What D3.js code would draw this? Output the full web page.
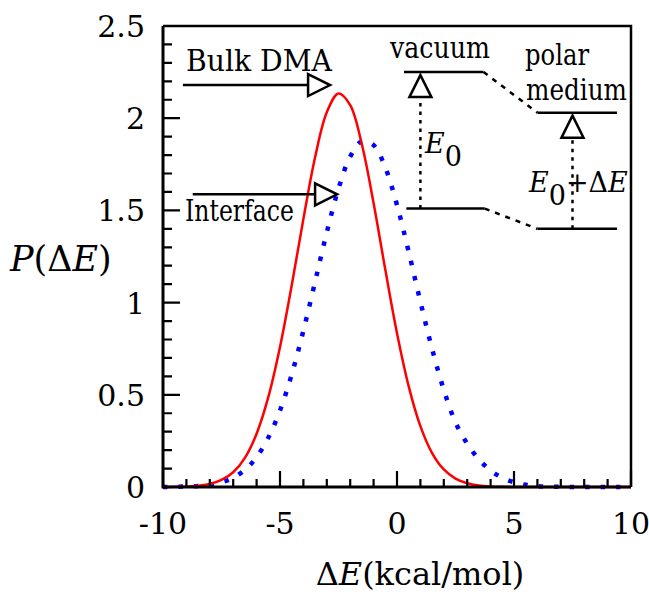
<!DOCTYPE html>
<html>
<head>
<meta charset="utf-8">
<script src="https://cdn.jsdelivr.net/npm/d3@7"></script>
<style>
  body { margin: 0; background: #fff; }
</style>
</head>
<body>
<svg id="chart"></svg>
<script>
// Chart size and plot box
const width = 649, height = 595;
const plotL = 163, plotR = 631, plotT = 26, plotB = 487;
const ff = "DejaVu Serif";

// Energy gap axis (kcal/mol)
const dE = [-10, -9.5, -9, -8.5, -8, -7.5, -7, -6.5, -6, -5.5, -5, -4.5, -4, -3.5, -3, -2.5, -2, -1.5, -1, -0.5,
            0, 0.5, 1, 1.5, 2, 2.5, 3, 3.5, 4, 4.5, 5, 5.5, 6, 6.5, 7, 7.5, 8, 8.5, 9, 9.5, 10];

// P(dE) for bulk DMA (red solid)
const bulk = [0, 0.001, 0.002, 0.007, 0.016, 0.038, 0.080, 0.158, 0.289, 0.487, 0.759, 1.093, 1.454, 1.788, 2.032, 2.134,
              2.071, 1.857, 1.539, 1.179, 0.834, 0.546, 0.330, 0.184, 0.095, 0.045, 0.020, 0.008, 0.003, 0.001,
              0, 0, 0, 0, 0, 0, 0, 0, 0, 0, 0];

// P(dE) at the interface (blue dotted)
const iface = [0, 0.001, 0.003, 0.006, 0.013, 0.026, 0.050, 0.093, 0.162, 0.267, 0.415, 0.610, 0.848, 1.113, 1.381, 1.618,
               1.792, 1.875, 1.854, 1.732, 1.529, 1.275, 1.005, 0.749, 0.527, 0.350, 0.235, 0.150, 0.090, 0.050,
               0.026, 0.012, 0.005, 0.002, 0.001, 0, 0, 0, 0, 0, 0];

// Tick values
const xMajor = [-10, -5, 0, 5, 10];
const xMinor = [-9, -8, -7, -6, -4, -3, -2, -1, 1, 2, 3, 4, 6, 7, 8, 9];
const yMajor = [0, 0.5, 1, 1.5, 2, 2.5];
const yMinor = [0.1, 0.2, 0.3, 0.4, 0.6, 0.7, 0.8, 0.9, 1.1, 1.2, 1.3, 1.4, 1.6, 1.7, 1.8, 1.9, 2.1, 2.2, 2.3, 2.4];

// Energy level sketch (data units): [x1, x2, y]
const levels = [[0.3, 3.7, 2.25], [6.0, 9.4, 2.03], [0.4, 3.75, 1.51], [6.0, 9.4, 1.40]];
// dashed links between levels: [from level, to level]
const links = [[0, 1], [2, 3]];
// vertical arrows: [x, yLow, yHigh]
const upArrows = [[1.0, 1.51, 2.25], [7.5, 1.40, 2.03]];
// pointer arrows to the curves: [label, x1, xTip, y]
const pointers = [["Bulk DMA", -9.15, -2.86, 2.18], ["Interface", -8.73, -2.56, 1.587]];

const x = d3.scaleLinear().domain([-10, 10]).range([plotL, plotR]);
const y = d3.scaleLinear().domain([0, 2.5]).range([plotB, plotT]);

const svg = d3.select("#chart")
    .attr("width", width)
    .attr("height", height)
    .attr("font-family", ff);

// Tick labels
xMajor.forEach(d => {
    svg.append("text")
        .attr("x", x(d)).attr("y", 534)
        .attr("text-anchor", "middle")
        .attr("font-size", 30)
        .text(String(d));
});
yMajor.forEach(d => {
    svg.append("text")
        .attr("x", 145).attr("y", y(d) + 11)
        .attr("text-anchor", "end")
        .attr("font-size", 30)
        .text(String(d));
});

// Curves
const line = d3.line()
    .x((d, i) => x(dE[i]))
    .y(d => y(d))
    .curve(d3.curveCatmullRom);

svg.append("path")
    .datum(iface)
    .attr("d", line)
    .attr("fill", "none")
    .attr("stroke", "#0000ff")
    .attr("stroke-width", 4.5)
    .attr("stroke-dasharray", "4.5,11");

svg.append("path")
    .datum(bulk)
    .attr("d", line)
    .attr("fill", "none")
    .attr("stroke", "#ff0000")
    .attr("stroke-width", 2.5);

// Pointer arrows and their labels
pointers.forEach(([label, x1, xt, yv]) => {
    const tip = x(xt), yy = y(yv);
    svg.append("line")
        .attr("x1", x(x1)).attr("x2", tip - 22)
        .attr("y1", yy).attr("y2", yy)
        .attr("stroke", "#000").attr("stroke-width", 2.5);
    svg.append("path")
        .attr("d", `M${tip - 22},${yy - 11}L${tip},${yy}L${tip - 22},${yy + 11}Z`)
        .attr("fill", "#fff").attr("stroke", "#000").attr("stroke-width", 2.5);
});

// Text squeezed to the widths seen in the original
function label(txt, xp, yp, size, len) {
    return svg.append("text").attr("x", xp).attr("y", yp)
        .attr("font-size", size)
        .attr("textLength", len).attr("lengthAdjust", "spacingAndGlyphs")
        .text(txt);
}
label(pointers[0][0], 186, 71, 30, 146);
label(pointers[1][0], 185, 221, 29, 109);

// Energy levels
levels.forEach(([a, b, yv]) => {
    svg.append("line")
        .attr("x1", x(a)).attr("x2", x(b))
        .attr("y1", y(yv)).attr("y2", y(yv))
        .attr("stroke", "#000").attr("stroke-width", 2.5);
});
links.forEach(([i, j]) => {
    svg.append("line")
        .attr("x1", x(levels[i][1])).attr("y1", y(levels[i][2]))
        .attr("x2", x(levels[j][0])).attr("y2", y(levels[j][2]))
        .attr("stroke", "#000").attr("stroke-width", 2.5)
        .attr("stroke-dasharray", "5,6");
});
upArrows.forEach(([xv, lo, hi]) => {
    const cx = x(xv), apex = y(hi) + 3;
    svg.append("line")
        .attr("x1", cx).attr("x2", cx)
        .attr("y1", y(lo)).attr("y2", apex + 22)
        .attr("stroke", "#000").attr("stroke-width", 2.5)
        .attr("stroke-dasharray", "3.5,5");
    svg.append("path")
        .attr("d", `M${cx - 11},${apex + 22}L${cx},${apex}L${cx + 11},${apex + 22}Z`)
        .attr("fill", "#fff").attr("stroke", "#000").attr("stroke-width", 2.5);
});

label("vacuum", 390, 58, 29, 100);
label("polar", 525, 65, 29, 64);
label("medium", 526, 100, 29, 101);

const e0 = svg.append("text").attr("x", 425).attr("y", 153).attr("font-size", 27);
e0.append("tspan").attr("font-style", "italic").text("E");
e0.append("tspan").attr("dy", 13).text("0");

const e1 = svg.append("text").attr("x", 529).attr("y", 192).attr("font-size", 27);
e1.append("tspan").attr("font-style", "italic").text("E");
e1.append("tspan").attr("dy", 13).text("0");
e1.append("tspan").attr("dy", -13).text("+Δ");
e1.append("tspan").attr("font-style", "italic").text("E");

// Axis titles
const yt = svg.append("text").attr("x", 10).attr("y", 271).attr("font-size", 35);
yt.append("tspan").attr("font-style", "italic").text("P");
yt.append("tspan").text("(Δ");
yt.append("tspan").attr("font-style", "italic").text("E");
yt.append("tspan").text(")");

const xt = svg.append("text").attr("x", 420).attr("y", 585)
    .attr("text-anchor", "middle").attr("font-size", 32);
xt.append("tspan").text("Δ");
xt.append("tspan").attr("font-style", "italic").text("E");
xt.append("tspan").text("(kcal/mol)");

// Frame
svg.append("path")
    .attr("d", `M${plotL},${plotT}H${plotR}V${plotB}`)
    .attr("fill", "none").attr("stroke", "#000").attr("stroke-width", 2.5);
svg.append("path")
    .attr("d", `M${plotL},${plotT}V${plotB}H${plotR}`)
    .attr("fill", "none").attr("stroke", "#000").attr("stroke-width", 3);

// Tick marks, drawn inward from the left and bottom edges
const tickPath = d3.path();
xMinor.forEach(d => { tickPath.moveTo(x(d), plotB); tickPath.lineTo(x(d), plotB - 8); });
xMajor.forEach(d => { tickPath.moveTo(x(d), plotB); tickPath.lineTo(x(d), plotB - 16); });
yMinor.forEach(d => { tickPath.moveTo(plotL, y(d)); tickPath.lineTo(plotL + 9, y(d)); });
yMajor.forEach(d => { tickPath.moveTo(plotL, y(d)); tickPath.lineTo(plotL + 17, y(d)); });
svg.append("path")
    .attr("d", tickPath.toString())
    .attr("fill", "none")
    .attr("stroke", "#000")
    .attr("stroke-width", 2.2);
</script>
</body>
</html>
